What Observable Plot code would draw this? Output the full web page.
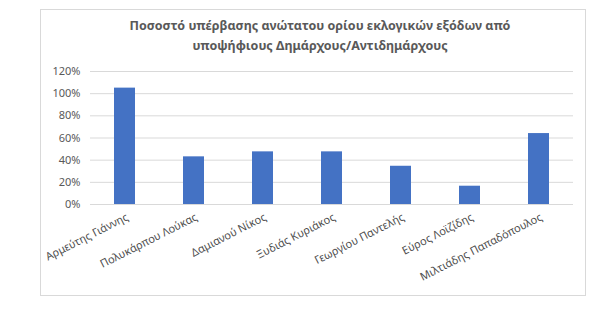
<!DOCTYPE html>
<html>
<head>
<meta charset="utf-8">
<script src="https://cdn.jsdelivr.net/npm/d3@7"></script>
<script src="https://cdn.jsdelivr.net/npm/@observablehq/plot@0.6"></script>
<style>
  html, body { margin: 0; padding: 0; background: #fff; }
  #wrap { position: relative; width: 607px; height: 312px; overflow: hidden; font-family: "Noto Sans", sans-serif; }
  #box { position: absolute; left: 40px; top: 9px; width: 546px; height: 287px; border: 1px solid #d9d9d9; box-sizing: border-box; }
  #title { position: absolute; left: 120px; width: 400px; top: 16px; text-align: center; font-weight: bold; font-size: 12.5px; line-height: 20px; color: #595959; }
  #chart { position: absolute; left: 0; top: 0; }
</style>
</head>
<body>
<div id="wrap">
  <div id="box"></div>
  <div id="title">Ποσοστό υπέρβασης ανώτατου ορίου εκλογικών εξόδων από<br>υποψήφιους Δημάρχους/Αντιδημάρχους</div>
  <div id="chart"></div>
</div>
<script>
const candidates = ["Αρμεύτης Γιάννης", "Πολυκάρπου Λούκας", "Δαμιανού Νίκος", "Ξυδιάς Κυριάκος", "Γεωργίου Παντελής", "Εύρος Λοϊζίδης", "Μιλτιάδης Παπαδόπουλος"];
const overrun = [1.05, 0.43, 0.475, 0.475, 0.345, 0.165, 0.64];
const yTicks = [0, 0.2, 0.4, 0.6, 0.8, 1.0, 1.2];

const data = candidates.map((name, i) => ({name, value: overrun[i]}));

const chart = Plot.plot({
  width: 607,
  height: 312,
  marginLeft: 90,
  marginRight: 34,
  marginTop: 71,
  marginBottom: 108,
  style: {fontFamily: "Noto Sans, sans-serif", background: "transparent", color: "#595959"},
  x: {domain: candidates, paddingInner: 0.69, paddingOuter: 0.345, axis: null},
  y: {domain: [0, 1.2], axis: null},
  marks: [
    Plot.ruleY(yTicks, {stroke: "#d9d9d9", strokeWidth: 1}),
    Plot.barY(data, {x: "name", y: "value", fill: "#4472c4"}),
    Plot.text(yTicks, {y: d => d, frameAnchor: "left", dx: -10, textAnchor: "end", text: d => Math.round(d * 100) + "%", fill: "#595959", fontSize: 11}),
    Plot.text(candidates, {x: d => d, frameAnchor: "bottom", dy: 15, dx: 4, rotate: -27, textAnchor: "end", text: d => d, fill: "#4d4d4d", fontSize: 11})
  ]
});
document.getElementById("chart").appendChild(chart);
</script>
</body>
</html>
